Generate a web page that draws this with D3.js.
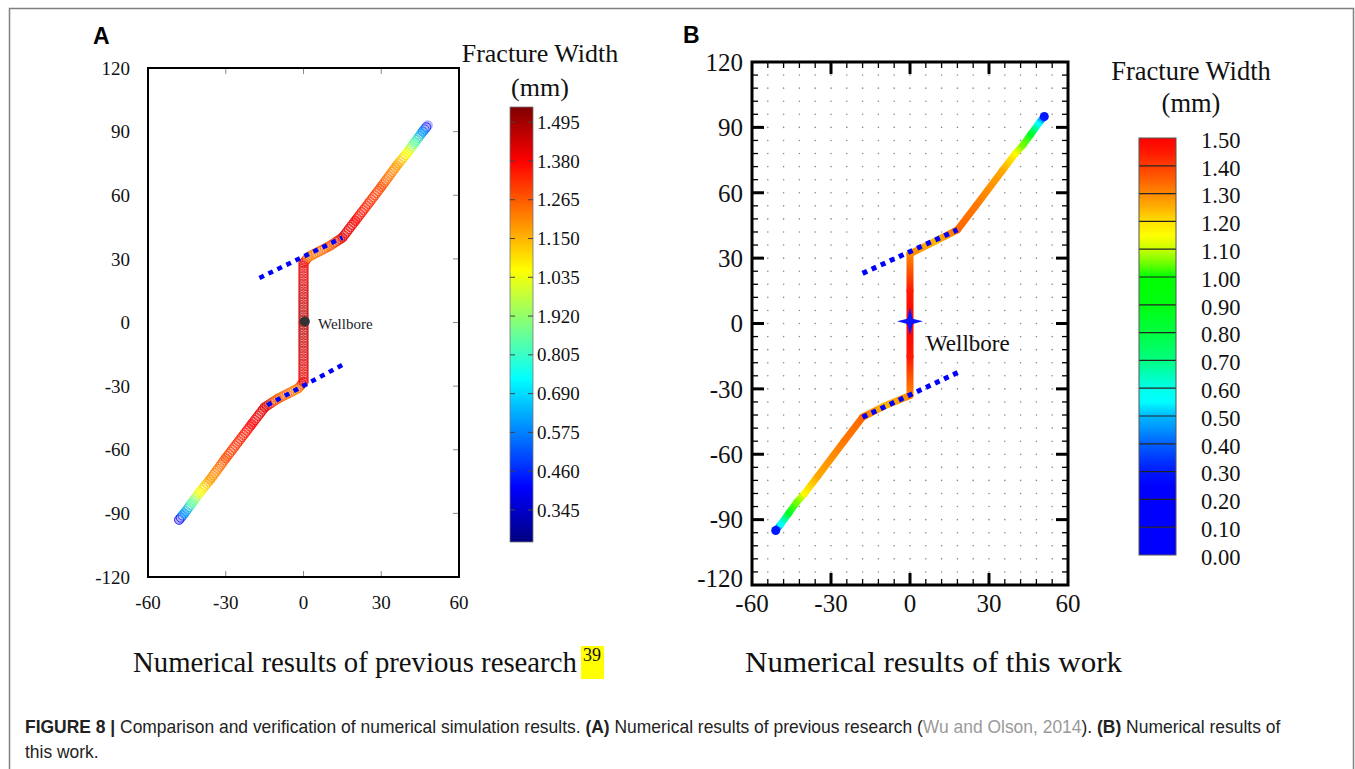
<!DOCTYPE html>
<html>
<head>
<meta charset="utf-8">
<script src="https://cdn.jsdelivr.net/npm/d3@7"></script>
<style>
  html, body { margin: 0; padding: 0; background: #fff; }
  svg { display: block; }
  .serif { font-family: "Liberation Serif", "Times New Roman", serif; fill: #111; }
  .sans { font-family: "Liberation Sans", Arial, sans-serif; fill: #222; }
</style>
</head>
<body>
<svg id="fig" width="1355" height="769"></svg>
<script>
// ---- data ----
const axisTicks = [-60, -30, 0, 30, 60]
const yTicks = [120, 90, 60, 30, 0, -30, -60, -90, -120]

// fracture trace [x, y, width mm], bottom tip to top tip
const fractureA = [
  [-48, -93, 0.40], [-46, -90, 0.60], [-43, -85, 0.85], [-40, -80, 1.05],
  [-36, -74, 1.18], [-30, -64, 1.28], [-20, -48, 1.38], [-15, -40, 1.42],
  [-10, -36, 1.26], [-2, -31, 1.22], [0, -28, 1.40], [0, 0, 1.47],
  [0, 28, 1.40], [2, 31, 1.22], [10, 36, 1.26], [15, 40, 1.42],
  [20, 48, 1.38], [30, 64, 1.28], [36, 74, 1.18], [40, 80, 1.05],
  [43, 85, 0.85], [46, 90, 0.60], [48, 93, 0.40]
]
const fractureB = [
  [-51, -95, 0.30], [-49, -92, 0.55], [-46, -87, 0.85], [-43, -82, 1.05],
  [-40, -78, 1.16], [-35, -70, 1.26], [-25, -54, 1.32], [-18, -43, 1.34],
  [-10, -38, 1.24], [0, -33, 1.30], [0, -15, 1.45], [0, 0, 1.50],
  [0, 15, 1.45], [0, 32, 1.30], [10, 38, 1.24], [18, 43, 1.34],
  [25, 54, 1.32], [35, 70, 1.26], [40, 78, 1.16], [43, 82, 1.05],
  [46, 87, 0.85], [49, 92, 0.55], [51, 95, 0.30]
]
// natural fractures (blue dotted)
const naturalA = [[[-17, 21], [15, 40]], [[-14, -39], [15, -20]]]
const naturalB = [[[-18, 23], [18, 43]], [[-18, -43], [19, -22]]]

// colour bar A (jet), note the "1.920" label as printed
const cbAValues = [1.495, 1.380, 1.265, 1.150, 1.035, 0.920, 0.805, 0.690, 0.575, 0.460, 0.345]
const cbALabels = ['1.495', '1.380', '1.265', '1.150', '1.035', '1.920', '0.805', '0.690', '0.575', '0.460', '0.345']
const cbADomain = [0.25, 1.54]
const jetColors = ['#00007f', '#0000ff', '#007fff', '#00ffff', '#7fff7f', '#ffff00', '#ff7f00', '#ff0000', '#7f0000']

// colour bar B: 15 bands of 0.1 mm
const cbBLabels = ['1.50', '1.40', '1.30', '1.20', '1.10', '1.00', '0.90', '0.80', '0.70', '0.60', '0.50', '0.40', '0.30', '0.20', '0.10', '0.00']
const cbBStopValues = [0.00, 0.25, 0.30, 0.40, 0.45, 0.50, 0.55, 0.60, 0.65, 0.70, 0.80, 0.90, 1.00, 1.05, 1.10, 1.15, 1.20, 1.25, 1.30, 1.35, 1.40, 1.45, 1.50]
const cbBStopColors = ['#0000ff', '#0000ff', '#0018ff', '#0060ff', '#0090ff', '#00b8ff', '#00ffff', '#00ffe8', '#00ffb8', '#00ff80', '#00ff40', '#00ff10', '#00ff00', '#70ff00', '#c8ff00', '#ffff00', '#ffe000', '#ffb000', '#ff8800', '#ff6000', '#ff3c00', '#ff1800', '#ff0000']

const svg = d3.select('#fig')
const defs = svg.append('defs')

// squeeze a text horizontally so it spans `width` px from x, baseline y
function fitText(sel, x, y, width) {
  const w = sel.node().getComputedTextLength()
  sel.attr('transform', `translate(${x},${y}) scale(${width / w},1)`)
  return width / w
}

// outer frame
svg.append('rect').attr('x', 9.5).attr('y', 8.5).attr('width', 1344).attr('height', 800)
  .attr('fill', 'none').attr('stroke', '#808080').attr('stroke-width', 1.5)

// panel letters
svg.append('text').attr('class', 'sans').attr('x', 93).attr('y', 44)
  .style('font-size', '23px').style('font-weight', 'bold').style('fill', '#000').text('A')
svg.append('text').attr('class', 'sans').attr('x', 683).attr('y', 43)
  .style('font-size', '23px').style('font-weight', 'bold').style('fill', '#000').text('B')

// ---------------- panel A ----------------
const xA = d3.scaleLinear().domain([-60, 60]).range([148, 459])
const yA = d3.scaleLinear().domain([-120, 120]).range([577, 68])
const colorA = d3.scaleLinear()
  .domain(jetColors.map((c, i) => cbADomain[0] + i * (cbADomain[1] - cbADomain[0]) / (jetColors.length - 1)))
  .range(jetColors)

const gA = svg.append('g')

// inner ticks on top/right/bottom
gA.selectAll('line.xt').data(axisTicks.slice(1, -1)).join('line')
  .attr('x1', d => xA(d)).attr('x2', d => xA(d)).attr('y1', yA(120)).attr('y2', yA(120) + 6)
  .attr('stroke', '#888').attr('stroke-width', 1)
gA.selectAll('line.xb').data(axisTicks.slice(1, -1)).join('line')
  .attr('x1', d => xA(d)).attr('x2', d => xA(d)).attr('y1', yA(-120)).attr('y2', yA(-120) - 6)
  .attr('stroke', '#888').attr('stroke-width', 1)
gA.selectAll('line.yr').data(yTicks.slice(1, -1)).join('line')
  .attr('x1', xA(60)).attr('x2', xA(60) - 6).attr('y1', d => yA(d)).attr('y2', d => yA(d))
  .attr('stroke', '#888').attr('stroke-width', 1)

gA.append('rect').attr('x', xA(-60)).attr('y', yA(120))
  .attr('width', xA(60) - xA(-60)).attr('height', yA(-120) - yA(120))
  .attr('fill', 'none').attr('stroke', '#000').attr('stroke-width', 2)

gA.selectAll('text.xl').data(axisTicks).join('text').attr('class', 'serif')
  .attr('x', d => xA(d)).attr('y', 609).attr('text-anchor', 'middle')
  .style('font-size', '19px').text(d => d)
gA.selectAll('text.yl').data(yTicks).join('text').attr('class', 'serif')
  .attr('x', 130).attr('y', d => yA(d)).attr('dy', '0.35em').attr('text-anchor', 'end')
  .style('font-size', '19px').text(d => d)

// fracture A: ring markers with gradient stroke per segment
const segA = d3.pairs(fractureA)
segA.forEach((s, i) => {
  const [p0, p1] = s
  const g = defs.append('linearGradient').attr('id', 'gA' + i).attr('gradientUnits', 'userSpaceOnUse')
    .attr('x1', xA(p0[0])).attr('y1', yA(p0[1])).attr('x2', xA(p1[0])).attr('y2', yA(p1[1]))
  g.append('stop').attr('offset', 0).attr('stop-color', colorA(p0[2]))
  g.append('stop').attr('offset', 1).attr('stop-color', colorA(p1[2]))
})
const fA = gA.append('g')
segA.forEach((s, i) => {
  const [p0, p1] = s
  fA.append('line')
    .attr('x1', xA(p0[0])).attr('y1', yA(p0[1])).attr('x2', xA(p1[0])).attr('y2', yA(p1[1]))
    .attr('stroke', `url(#gA${i})`).attr('stroke-width', 10).attr('stroke-linecap', 'round')
    .attr('opacity', 0.3)
})
segA.forEach((s, i) => {
  const [p0, p1] = s
  const x0 = xA(p0[0]), y0 = yA(p0[1]), x1 = xA(p1[0]), y1 = yA(p1[1])
  const len = Math.hypot(x1 - x0, y1 - y0)
  const n = Math.max(1, Math.round(len / 2.6))
  fA.selectAll(null).data(d3.range(n)).join('circle')
    .attr('cx', k => x0 + (x1 - x0) * k / n).attr('cy', k => y0 + (y1 - y0) * k / n)
    .attr('r', 4.6).attr('fill', 'none')
    .attr('stroke', `url(#gA${i})`).attr('stroke-width', 0.9).attr('opacity', 0.85)
})

gA.selectAll('line.nat').data(naturalA).join('line')
  .attr('x1', d => xA(d[0][0])).attr('y1', d => yA(d[0][1]))
  .attr('x2', d => xA(d[1][0])).attr('y2', d => yA(d[1][1]))
  .attr('stroke', '#0000ff').attr('stroke-width', 4.5).attr('stroke-dasharray', '5,5')

gA.append('circle').attr('cx', xA(0.5)).attr('cy', yA(0.5)).attr('r', 5).attr('fill', '#333')
gA.append('text').attr('class', 'serif').attr('x', 318).attr('y', 329)
  .style('font-size', '15px').style('fill', '#1a1a2a').text('Wellbore')

// colour bar A
const cbA = d3.scaleLinear().domain(cbADomain).range([542, 107])
const jetGrad = defs.append('linearGradient').attr('id', 'jet').attr('x1', 0).attr('y1', 1).attr('x2', 0).attr('y2', 0)
jetGrad.selectAll('stop').data(jetColors).join('stop')
  .attr('offset', (d, i) => i / (jetColors.length - 1)).attr('stop-color', d => d)
svg.append('rect').attr('x', 510).attr('y', cbA(cbADomain[1])).attr('width', 23)
  .attr('height', cbA(cbADomain[0]) - cbA(cbADomain[1]))
  .attr('fill', 'url(#jet)').attr('stroke', '#777').attr('stroke-width', 0.8)
svg.selectAll('line.cbal').data(cbAValues).join('line')
  .attr('x1', 510).attr('x2', 515).attr('y1', d => cbA(d)).attr('y2', d => cbA(d))
  .attr('stroke', '#444').attr('stroke-width', 1)
svg.selectAll('line.cbar').data(cbAValues).join('line')
  .attr('x1', 528).attr('x2', 533).attr('y1', d => cbA(d)).attr('y2', d => cbA(d))
  .attr('stroke', '#444').attr('stroke-width', 1)
svg.selectAll('text.cba').data(cbAValues).join('text').attr('class', 'serif')
  .attr('x', 537).attr('y', d => cbA(d)).attr('dy', '0.35em')
  .style('font-size', '19px').text((d, i) => cbALabels[i])
svg.append('text').attr('class', 'serif').attr('x', 540).attr('y', 62).attr('text-anchor', 'middle')
  .style('font-size', '26px').text('Fracture Width')
svg.append('text').attr('class', 'serif').attr('x', 540).attr('y', 96).attr('text-anchor', 'middle')
  .style('font-size', '26px').text('(mm)')

// ---------------- panel B ----------------
const xB = d3.scaleLinear().domain([-60, 60]).range([752, 1068])
const yB = d3.scaleLinear().domain([-120, 120]).range([585, 62])
const colorB = d3.scaleLinear().domain(cbBStopValues).range(cbBStopColors)
const gB = svg.append('g')

// dot grid every 6 units
const minorX = d3.range(-54, 60, 6)
const minorY = d3.range(-114, 120, 6)
const dots = minorX.flatMap(x => minorY.map(y => [x, y]))
gB.selectAll('circle.dot').data(dots).join('circle')
  .attr('cx', d => xB(d[0])).attr('cy', d => yB(d[1])).attr('r', 0.8).attr('fill', '#8a8a8a')

// ticks on all four sides, pointing in
const tickB = (vals, len, w) => {
  gB.selectAll(null).data(vals.x).join('line')
    .attr('x1', d => xB(d)).attr('x2', d => xB(d)).attr('y1', yB(-120)).attr('y2', yB(-120) - len)
    .attr('stroke', '#000').attr('stroke-width', w)
  gB.selectAll(null).data(vals.x).join('line')
    .attr('x1', d => xB(d)).attr('x2', d => xB(d)).attr('y1', yB(120)).attr('y2', yB(120) + len)
    .attr('stroke', '#000').attr('stroke-width', w)
  gB.selectAll(null).data(vals.y).join('line')
    .attr('x1', xB(-60)).attr('x2', xB(-60) + len).attr('y1', d => yB(d)).attr('y2', d => yB(d))
    .attr('stroke', '#000').attr('stroke-width', w)
  gB.selectAll(null).data(vals.y).join('line')
    .attr('x1', xB(60)).attr('x2', xB(60) - len).attr('y1', d => yB(d)).attr('y2', d => yB(d))
    .attr('stroke', '#000').attr('stroke-width', w)
}
tickB({ x: minorX.filter(v => v % 30 !== 0), y: minorY.filter(v => v % 30 !== 0) }, 6, 1.3)
tickB({ x: axisTicks.slice(1, -1), y: yTicks.slice(1, -1) }, 12, 3)

gB.append('rect').attr('x', xB(-60)).attr('y', yB(120))
  .attr('width', xB(60) - xB(-60)).attr('height', yB(-120) - yB(120))
  .attr('fill', 'none').attr('stroke', '#000').attr('stroke-width', 3)

gB.selectAll('text.xl').data(axisTicks).join('text').attr('class', 'serif')
  .attr('x', d => xB(d)).attr('y', 612).attr('text-anchor', 'middle')
  .style('font-size', '25px').text(d => d)
gB.selectAll('text.yl').data(yTicks).join('text').attr('class', 'serif')
  .attr('x', 743).attr('y', d => yB(d) + (d === -120 ? -7 : 0)).attr('dy', '0.35em').attr('text-anchor', 'end')
  .style('font-size', '25px').text(d => d)

// fracture B: gradient segments
const segB = d3.pairs(fractureB)
segB.forEach((s, i) => {
  const [p0, p1] = s
  const g = defs.append('linearGradient').attr('id', 'gB' + i).attr('gradientUnits', 'userSpaceOnUse')
    .attr('x1', xB(p0[0])).attr('y1', yB(p0[1])).attr('x2', xB(p1[0])).attr('y2', yB(p1[1]))
  g.append('stop').attr('offset', 0).attr('stop-color', colorB(p0[2]))
  g.append('stop').attr('offset', 1).attr('stop-color', colorB(p1[2]))
})
gB.selectAll('line.frac').data(segB).join('line')
  .attr('x1', d => xB(d[0][0])).attr('y1', d => yB(d[0][1]))
  .attr('x2', d => xB(d[1][0])).attr('y2', d => yB(d[1][1]))
  .attr('stroke', (d, i) => `url(#gB${i})`).attr('stroke-width', 7).attr('stroke-linecap', 'round')
// tips
gB.selectAll('circle.tip').data([fractureB[0], fractureB[fractureB.length - 1]]).join('circle')
  .attr('cx', d => xB(d[0])).attr('cy', d => yB(d[1])).attr('r', 4.5).attr('fill', colorB(0.3))

gB.selectAll('line.nat').data(naturalB).join('line')
  .attr('x1', d => xB(d[0][0])).attr('y1', d => yB(d[0][1]))
  .attr('x2', d => xB(d[1][0])).attr('y2', d => yB(d[1][1]))
  .attr('stroke', '#0000ff').attr('stroke-width', 5).attr('stroke-dasharray', '5,5')

// wellbore star
const star = 'M0,-14 L2.6,-2.6 L13,0 L2.6,2.6 L0,14 L-2.6,2.6 L-13,0 L-2.6,-2.6 Z'
gB.append('path').attr('d', star).attr('transform', `translate(${xB(0)},${yB(1)})`).attr('fill', '#0a14ff')
gB.append('text').attr('class', 'serif').attr('x', 926).attr('y', 351)
  .style('font-size', '23px').text('Wellbore')

// colour bar B
const cbB = d3.scaleLinear().domain([0, 1.5]).range([555, 138])
const bands = d3.range(15).map(i => [cbBLabels[15 - i], cbBLabels[14 - i]].map(Number))
bands.forEach((b, i) => {
  const g = defs.append('linearGradient').attr('id', 'cbB' + i).attr('x1', 0).attr('y1', 1).attr('x2', 0).attr('y2', 0)
  const inside = [b[0], ...cbBStopValues.filter(v => v > b[0] && v < b[1]), b[1]]
  g.selectAll('stop').data(inside).join('stop')
    .attr('offset', v => (v - b[0]) / (b[1] - b[0])).attr('stop-color', v => colorB(v))
})
svg.selectAll('rect.band').data(bands).join('rect')
  .attr('x', 1139).attr('width', 37)
  .attr('y', d => cbB(d[1])).attr('height', d => cbB(d[0]) - cbB(d[1]))
  .attr('fill', (d, i) => `url(#cbB${i})`)
svg.selectAll('line.bandsep').data(cbBLabels.slice(1, -1)).join('line')
  .attr('x1', 1139).attr('x2', 1176).attr('y1', d => cbB(+d)).attr('y2', d => cbB(+d))
  .attr('stroke', '#222').attr('stroke-width', 1.2)
svg.append('rect').attr('x', 1139).attr('y', cbB(1.5)).attr('width', 37).attr('height', cbB(0) - cbB(1.5))
  .attr('fill', 'none').attr('stroke', '#555').attr('stroke-width', 1)
svg.selectAll('text.cbb').data(cbBLabels).join('text').attr('class', 'serif')
  .attr('x', 1201).attr('y', d => cbB(+d) + 2).attr('dy', '0.35em')
  .style('font-size', '22.5px').text(d => d)
svg.append('text').attr('class', 'serif').attr('x', 1191).attr('y', 80).attr('text-anchor', 'middle')
  .style('font-size', '26.5px').text('Fracture Width')
svg.append('text').attr('class', 'serif').attr('x', 1191).attr('y', 112).attr('text-anchor', 'middle')
  .style('font-size', '26.5px').text('(mm)')

// ---------------- sub captions ----------------
svg.append('rect').attr('x', 581).attr('y', 646).attr('width', 23).attr('height', 33).attr('fill', '#ffff00')
const subA = svg.append('text').attr('class', 'serif').style('font-size', '30px')
  .text('Numerical results of previous research')
fitText(subA, 133, 672, 444)
svg.append('text').attr('class', 'serif').attr('x', 583).attr('y', 661)
  .style('font-size', '18px').text('39')
const subB = svg.append('text').attr('class', 'serif').style('font-size', '30px')
  .text('Numerical results of this work')
fitText(subB, 745, 672, 377)

// ---------------- figure caption ----------------
const cap = svg.append('text').attr('class', 'sans').style('font-size', '18px')
const parts = [
  ['FIGURE 8 | ', 'bold', '#222'],
  ['Comparison and verification of numerical simulation results. ', 'normal', '#222'],
  ['(A) ', 'bold', '#222'],
  ['Numerical results of previous research (', 'normal', '#222'],
  ['Wu and Olson, 2014', 'normal', '#9a9a9a'],
  [')', 'normal', '#222'],
  ['. ', 'normal', '#222'],
  ['(B) ', 'bold', '#222'],
  ['Numerical results of', 'normal', '#222']
]
cap.attr('xml:space', 'preserve')
cap.selectAll('tspan').data(parts).join('tspan')
  .style('font-weight', d => d[1]).style('fill', d => d[2]).text(d => d[0])
const s = fitText(cap, 25, 733, 1281 - 25)
svg.append('text').attr('class', 'sans').style('font-size', '18px').style('fill', '#222')
  .attr('transform', `translate(25,758) scale(${s},1)`).text('this work.')
</script>
</body>
</html>
